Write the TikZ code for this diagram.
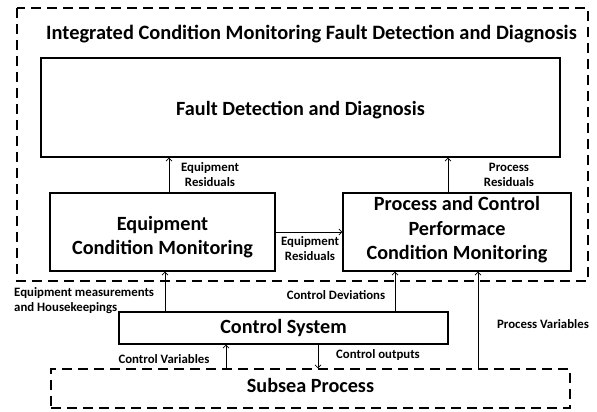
\documentclass[tikz,border=0pt]{standalone}
\usepackage{fontspec}
\setmainfont{Carlito}
\usetikzlibrary{arrows.meta}
\begin{document}
\begin{tikzpicture}[x=1pt,y=-1pt,
  box/.style={draw,line width=1.1pt,minimum width=#1,inner sep=0pt},
  btxt/.style={font=\fontsize{20.2}{24.5}\selectfont\bfseries,align=center,inner sep=0pt},
  dbox/.style={draw,line width=1.1pt,dash pattern=on 10pt off 6pt},
  lbl/.style={font=\fontsize{12.8}{15}\selectfont\bfseries,align=center,inner sep=1pt},
  arr/.style={draw,line width=0.8pt,-{Straight Barb[length=3pt,width=6pt]}}]
\useasboundingbox (0,0) rectangle (597,412);
\draw[dbox] (17,8) rectangle (588,281);
\node[font=\fontsize{20.4}{24}\selectfont\bfseries] (title) at (311.5,34.5) {Integrated Condition Monitoring Fault Detection and Diagnosis};
\node[box=519pt,minimum height=99pt] (FDD) at (300.5,107.5) {};
\node[btxt] (FDDt) at ([yshift=-2.5pt]FDD.center) {Fault Detection and Diagnosis};
\node[box=225pt,minimum height=78pt] (ECM) at (162.5,232) {};
\node[btxt] (ECMt) at ([yshift=-5pt]ECM.center) {Equipment\\Condition Monitoring};
\node[box=228pt,minimum height=78pt] (PCPM) at (457,232) {};
\node[btxt] (PCPMt) at ([yshift=2pt]PCPM.center) {Process and Control\\Performace\\Condition Monitoring};
\node[box=329pt,minimum height=32pt] (CS) at (283.5,328) {};
\node[btxt] (CSt) at (CS.center) {Control System};
\node[box=519pt,minimum height=39pt,dash pattern=on 10pt off 6pt] (SP) at (310.5,388.5) {};
\node[btxt] (SPt) at ([yshift=3pt]SP.center) {Subsea Process};
\draw[arr] ([xshift=6.5pt]ECM.north) -- ([xshift=6.5pt]ECM.north |- FDD.south);
\draw[arr] ([xshift=-9pt]PCPM.north) -- ([xshift=-9pt]PCPM.north |- FDD.south);
\draw[arr] (ECM.east) -- (PCPM.west);
\draw[arr] ([xshift=2.5pt]ECM.south |- CS.north) -- ([xshift=2.5pt]ECM.south);
\draw[arr] ([xshift=-62pt]PCPM.south |- CS.north) -- ([xshift=-62pt]PCPM.south);
\draw[arr] ([xshift=-57.5pt]CS.south |- SP.north) -- ([xshift=-57.5pt]CS.south);
\draw[arr] ([xshift=34.5pt]CS.south) -- ([xshift=34.5pt]CS.south |- SP.north);
\draw[arr] ([xshift=21pt]PCPM.south |- SP.north) -- ([xshift=21pt]PCPM.south);
\node[lbl] (l1) at (210,175) {Equipment\\Residuals};
\node[lbl] (l2) at (509,175) {Process\\Residuals};
\node[lbl] (l3) at (310,249) {Equipment\\Residuals};
\node[lbl,align=left,anchor=west] (l4) at (13,300.5) {Equipment measurements\\and Housekeepings};
\node[lbl] (l5) at (336,295) {Control Deviations};
\node[lbl] (l6) at (543,324) {Process Variables};
\node[lbl] (l7) at (164,359) {Control Variables};
\node[lbl] (l8) at (378,355) {Control outputs};
\end{tikzpicture}
\end{document}
